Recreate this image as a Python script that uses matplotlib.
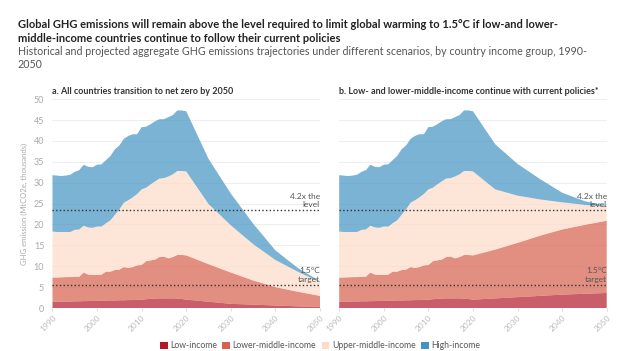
import matplotlib
matplotlib.use("Agg")
import matplotlib.pyplot as plt
from matplotlib.patches import FancyBboxPatch, Patch

plt.rcParams["font.family"] = ["Lato", "DejaVu Sans"]

# years: annual history, then 5-year projections
hist_years = list(range(1990, 2021))
proj_years = [2025, 2030, 2035, 2040, 2045, 2050]
years = hist_years + proj_years

# MtCO2e, thousands
low_hist = [1.5, 1.5, 1.5, 1.55, 1.55, 1.6, 1.6, 1.65, 1.65, 1.7, 1.7, 1.75, 1.75, 1.8, 1.8, 1.85,
            1.85, 1.9, 1.9, 1.95, 2.0, 2.1, 2.2, 2.25, 2.3, 2.3, 2.3, 2.3, 2.25, 2.15, 2.0]
lowmid_hist = [5.8, 5.8, 5.85, 5.85, 5.85, 5.9, 5.9, 6.85, 6.35, 6.2, 6.2, 6.25, 6.95, 6.9, 7.3, 7.35,
               7.95, 7.7, 7.9, 8.25, 8.3, 9.1, 9.2, 9.35, 9.9, 10.0, 9.6, 9.9, 10.45, 10.55, 10.6]
uppmid_hist = [11.0, 10.9, 10.85, 10.8, 10.8, 11.2, 11.3, 11.2, 11.3, 11.3, 11.6, 11.5, 11.6, 12.3,
               13.2, 14.4, 15.4, 16.2, 16.7, 17.1, 18.1, 17.6, 18.2, 18.7, 18.8, 18.8, 19.6, 19.8,
               20.1, 20.1, 20.1]
high_hist = [13.5, 13.5, 13.4, 13.5, 13.7, 13.9, 14.2, 14.6, 14.5, 14.5, 14.8, 14.9, 15.1, 15.4, 15.7,
             15.3, 15.3, 15.4, 15.1, 14.3, 14.9, 14.6, 14.4, 14.4, 14.2, 14.1, 14.2, 14.2, 14.5, 14.5,
             14.4]

# projections, scenario a (net zero) and b (current policies for low / lower-middle)
low_proj_a = [1.5, 1.0, 0.8, 0.6, 0.4, 0.3]
lowmid_proj_a = [9.0, 7.5, 5.8, 4.4, 3.5, 2.6]
low_proj_b = [2.3, 2.6, 2.9, 3.2, 3.4, 3.6]
lowmid_proj_b = [11.7, 13.0, 14.4, 15.6, 16.5, 17.3]
uppmid_proj = [14.4, 11.3, 8.7, 6.5, 4.8, 3.3]
high_proj = [10.8, 7.6, 4.9, 2.3, 0.9, 0.2]

target_15 = 5.5
level_42x = 23.4

labels = ["Low-income", "Lower-middle-income", "Upper-middle-income", "High-income"]
colors = ["#b2182b", "#d6604d", "#fddbc7", "#4393c3"]

scenarios = [
    ("a. All countries transition to net zero by 2050",
     [low_hist + low_proj_a, lowmid_hist + lowmid_proj_a,
      uppmid_hist + uppmid_proj, high_hist + high_proj]),
    ("b. Low- and lower-middle-income continue with current policies*",
     [low_hist + low_proj_b, lowmid_hist + lowmid_proj_b,
      uppmid_hist + uppmid_proj, high_hist + high_proj]),
]

fig = plt.figure(figsize=(6.4, 3.51), dpi=100)
fig.patch.set_facecolor("white")

fig.text(0.028, 0.945,
         "Global GHG emissions will remain above the level required to limit global warming to 1.5°C if low-and lower-\n"
         "middle-income countries continue to follow their current policies",
         fontsize=8, weight="bold", color="#222222", va="top", ha="left", linespacing=1.25)
fig.text(0.028, 0.87,
         "Historical and projected aggregate GHG emissions trajectories under different scenarios, by country income group, 1990-\n"
         "2050",
         fontsize=7.7, color="#555555", va="top", ha="left", linespacing=1.3)

ax_lefts = [0.082, 0.530]
for k, (title, series) in enumerate(scenarios):
    ax = fig.add_axes([ax_lefts[k], 0.1225, 0.418, 0.595])
    ax.stackplot(years, *series, colors=colors, alpha=0.7, linewidth=0)
    ax.set_xlim(1990, 2050)
    ax.set_ylim(0, 50)
    ax.set_yticks(range(0, 51, 5))
    ax.set_xticks(range(1990, 2051, 10))
    ax.grid(axis="y", color="#eeeeee", linewidth=0.8)
    ax.set_axisbelow(True)
    for s in ax.spines.values():
        s.set_visible(False)
    ax.tick_params(axis="y", length=0, labelsize=6.5, labelcolor="#aaaaaa", pad=6)
    ax.tick_params(axis="x", length=2, color="#dddddd", labelsize=6, labelcolor="#bbbbbb", pad=2)
    for t in ax.get_xticklabels():
        t.set_rotation(45)
        t.set_ha("right")
        t.set_rotation_mode("anchor")
    if k == 0:
        ax.set_ylabel("GHG emission (MtCO2e, thousands)", fontsize=5.5, color="#aaaaaa", labelpad=4)
    else:
        ax.set_yticklabels([])

    ax.axhline(level_42x, color="#333333", linestyle=":", linewidth=1.0)
    ax.axhline(target_15, color="#333333", linestyle=":", linewidth=1.0)
    ax.text(2050, level_42x + 0.6, "4.2x the\nlevel", ha="right", va="bottom",
            fontsize=6, color="#555555", linespacing=1.2)
    ax.text(2050, target_15 + 0.6, "1.5°C\ntarget", ha="right", va="bottom",
            fontsize=6, color="#555555", linespacing=1.2)
    ax.set_title(title, loc="left", fontsize=6.5, weight="bold", color="#333333", pad=4)

handles = [Patch(facecolor=c, edgecolor=c, linewidth=0) for c in colors]
fig.legend(handles, labels, loc="lower center", bbox_to_anchor=(0.5, -0.02), ncol=4,
           frameon=False, fontsize=6.2, labelcolor="#555555", handletextpad=0.3,
           columnspacing=0.6, handlelength=0.9, handleheight=0.9)

plt.savefig("out.png", dpi=100)
plt.close()
